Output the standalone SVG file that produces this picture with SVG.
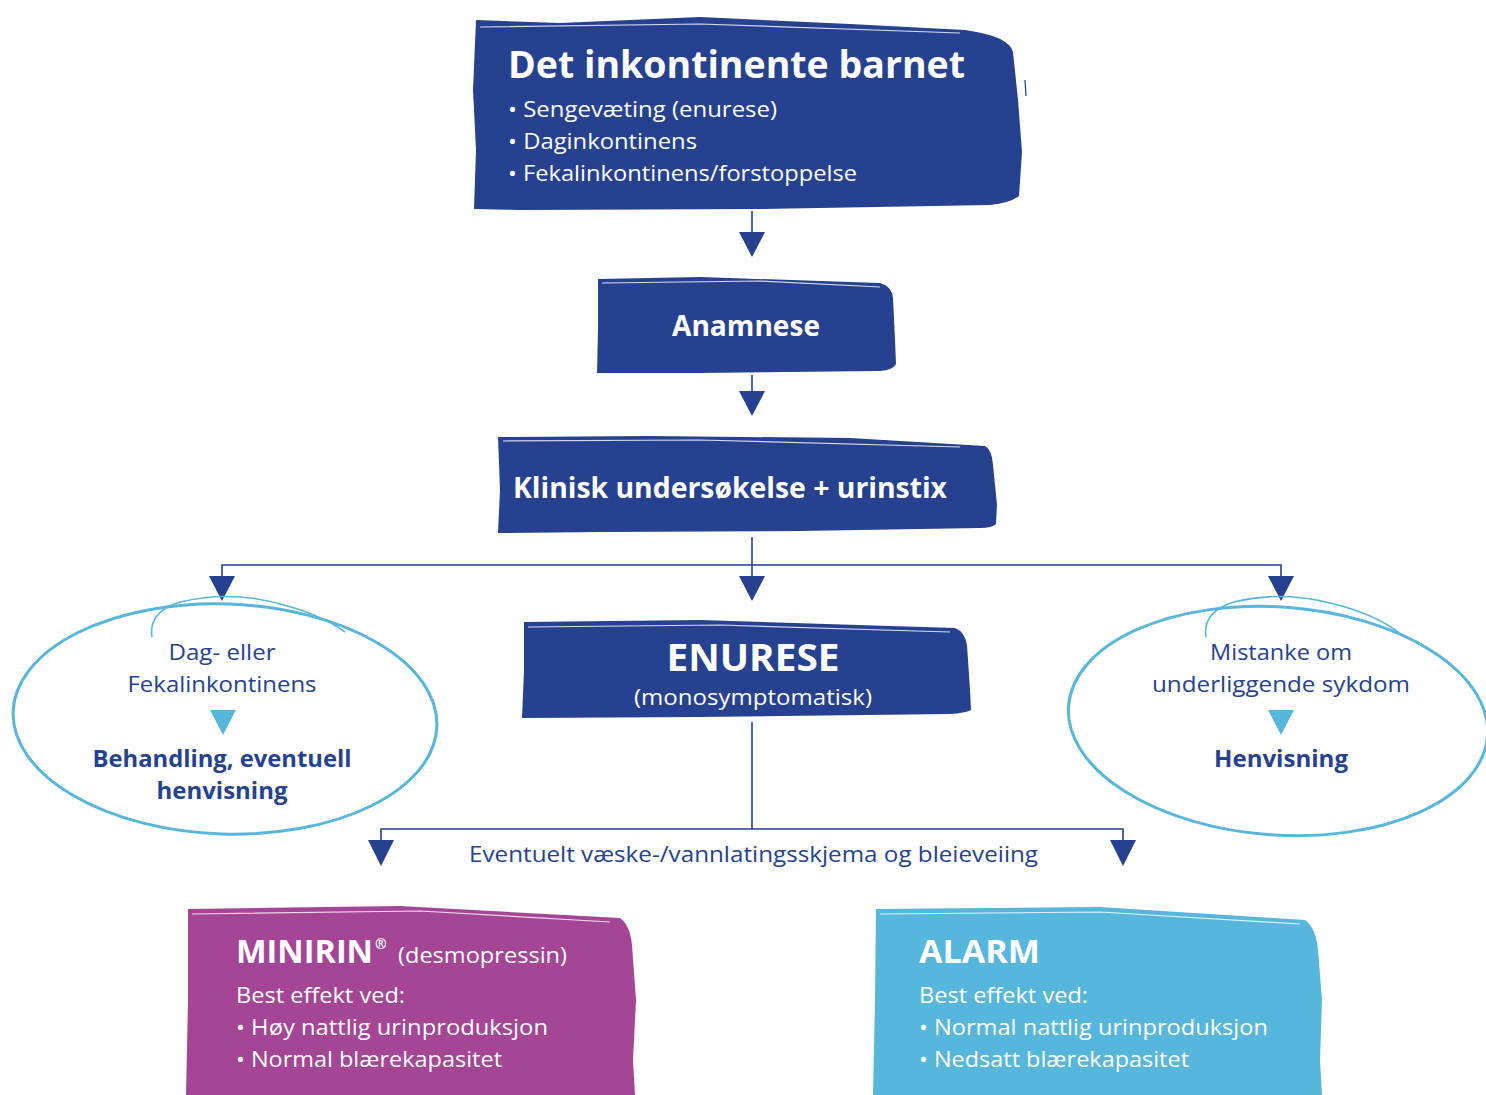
<svg xmlns="http://www.w3.org/2000/svg" width="1486" height="1095" viewBox="0 0 1486 1095">
<defs>
<style>
.bx{fill:#26418f}
.pu{fill:#a44596}
.lb{fill:#57b6dc}
.t{font-family:"Open Sans","Liberation Sans",sans-serif}
.w{fill:#ffffff}
.d{fill:#26418f}
.b{font-weight:bold}
.ln{stroke:#26418f;stroke-width:1.6;fill:none}
.ar{fill:#26418f}
.el{stroke:#57b6dc;stroke-width:3;fill:none}
.el2{stroke:#57b6dc;stroke-width:1.6;fill:none}
.ed{stroke:#ffffff;stroke-width:1.2;fill:none;opacity:0.8}
</style>
</defs>
<rect width="1486" height="1095" fill="#ffffff"/>

<g id="connectors">
<line class="ln" x1="752" y1="211" x2="752" y2="233"/>
<polygon class="ar" points="739,232 765,232 752,257"/>
<line class="ln" x1="752" y1="375" x2="752" y2="392"/>
<polygon class="ar" points="739,391 765,391 752,416"/>
<line class="ln" x1="752" y1="537" x2="752" y2="577"/>
<polyline class="ln" points="222,577 222,565 1281,565 1281,577"/>
<polygon class="ar" points="739,576 765,576 752,601"/>
<polygon class="ar" points="209,576 235,576 222,601"/>
<polygon class="ar" points="1268,576 1294,576 1281,601"/>
<line class="ln" x1="752" y1="722" x2="752" y2="829"/>
<polyline class="ln" points="381,841 381,829 1123,829 1123,841"/>
<polygon class="ar" points="368,840 394,840 381,866"/>
<polygon class="ar" points="1110,840 1136,840 1123,866"/>
<text class="t d" x="753.5" y="862" font-size="22" text-anchor="middle" textLength="569" lengthAdjust="spacingAndGlyphs">Eventuelt væske-/vannlatingsskjema og bleieveiing</text>
</g>

<g id="node-top">
<path class="bx" d="M476,20 L560,23 L700,17 L850,24 L965,30 Q1009,36 1013,52 L1018,100 L1022,152 L1019,196 Q1010,203 990,205 L760,209 L520,210 L474,209 L476,150 L473,90 Z"/>
<path class="ed" d="M480,27 L700,24 L960,33"/>
<line x1="1025" y1="80" x2="1026" y2="96" stroke="#26418f" stroke-width="1.2"/>
<text class="t w b" x="508" y="78" font-size="38" textLength="457" lengthAdjust="spacingAndGlyphs">Det inkontinente barnet</text>
<text class="t w" x="508" y="117" font-size="22" textLength="269" lengthAdjust="spacingAndGlyphs">• Sengevæting (enurese)</text>
<text class="t w" x="508" y="149" font-size="22" textLength="189" lengthAdjust="spacingAndGlyphs">• Daginkontinens</text>
<text class="t w" x="508" y="181" font-size="22" textLength="349" lengthAdjust="spacingAndGlyphs">• Fekalinkontinens/forstoppelse</text>
</g>

<g id="node-anamnese">
<path class="bx" d="M598,279 L700,277 L880,283 Q892,286 893,298 L895,340 L896,364 Q893,370 880,371 L700,373 L597,373 L598,330 Z"/>
<path class="ed" d="M602,283 L760,281 L880,287"/>
<text class="t w b" x="746" y="336" font-size="28" text-anchor="middle" textLength="148" lengthAdjust="spacingAndGlyphs">Anamnese</text>
</g>

<g id="node-klinisk">
<path class="bx" d="M498,437 L650,436 L850,438 L985,446 Q992,450 993,465 L997,505 L996,524 Q992,528 980,528 L800,531 L600,532 L498,533 L500,490 Z"/>
<path class="ed" d="M503,441 L700,440 L960,447"/>
<text class="t w b" x="513" y="498" font-size="28" textLength="434" lengthAdjust="spacingAndGlyphs">Klinisk undersøkelse + urinstix</text>
</g>

<g id="node-enurese">
<path class="bx" d="M524,622 L700,620 L955,628 Q965,632 967,645 L970,690 L971,710 Q965,713 950,714 L700,717 L522,718 L524,670 Z"/>
<path class="ed" d="M528,627 L720,625 L950,632"/>
<text class="t w b" x="753" y="671" font-size="37" text-anchor="middle" textLength="173" lengthAdjust="spacingAndGlyphs">ENURESE</text>
<text class="t w" x="753" y="705" font-size="21" text-anchor="middle" textLength="238" lengthAdjust="spacingAndGlyphs">(monosymptomatisk)</text>
</g>

<g id="node-dag">
<ellipse class="el" cx="225" cy="719" rx="212" ry="115" transform="rotate(2 225 719)"/>
<path class="el2" d="M152,637 Q148,612 180,602 Q230,590 280,604 Q320,614 345,632"/>
<text class="t d" x="222" y="660" font-size="22" text-anchor="middle" textLength="107" lengthAdjust="spacingAndGlyphs">Dag- eller</text>
<text class="t d" x="222" y="692" font-size="22" text-anchor="middle" textLength="189" lengthAdjust="spacingAndGlyphs">Fekalinkontinens</text>
<polygon class="lb" points="210,710 236,710 223,735"/>
<text class="t d b" x="222" y="767" font-size="23" text-anchor="middle" textLength="259" lengthAdjust="spacingAndGlyphs">Behandling, eventuell</text>
<text class="t d b" x="222" y="799" font-size="23" text-anchor="middle" textLength="131" lengthAdjust="spacingAndGlyphs">henvisning</text>
</g>

<g id="node-mistanke">
<ellipse class="el" cx="1278" cy="721" rx="210" ry="114" transform="rotate(4 1278 721)"/>
<path class="el2" d="M1206,637 Q1202,612 1234,602 Q1284,590 1334,604 Q1374,614 1398,632"/>
<text class="t d" x="1281" y="660" font-size="22" text-anchor="middle" textLength="142" lengthAdjust="spacingAndGlyphs">Mistanke om</text>
<text class="t d" x="1281" y="692" font-size="22" text-anchor="middle" textLength="258" lengthAdjust="spacingAndGlyphs">underliggende sykdom</text>
<polygon class="lb" points="1268,710 1294,710 1281,735"/>
<text class="t d b" x="1281" y="767" font-size="23" text-anchor="middle" textLength="134" lengthAdjust="spacingAndGlyphs">Henvisning</text>
</g>

<g id="node-minirin">
<path class="pu" d="M188,909 L400,906 L620,918 Q630,925 632,945 L636,1000 L633,1060 L635,1095 L186,1095 L188,1000 Z"/>
<path class="ed" d="M192,914 L420,911 L610,922"/>
<text class="t w b" x="236" y="963" font-size="32" textLength="137" lengthAdjust="spacingAndGlyphs">MINIRIN</text>
<text class="t w b" x="375" y="949" font-size="14">®</text>
<text class="t w" x="398" y="963" font-size="22" textLength="169" lengthAdjust="spacingAndGlyphs">(desmopressin)</text>
<text class="t w" x="236" y="1003" font-size="22" textLength="169" lengthAdjust="spacingAndGlyphs">Best effekt ved:</text>
<text class="t w" x="236" y="1035" font-size="22" textLength="312" lengthAdjust="spacingAndGlyphs">• Høy nattlig urinproduksjon</text>
<text class="t w" x="236" y="1067" font-size="22" textLength="266" lengthAdjust="spacingAndGlyphs">• Normal blærekapasitet</text>
</g>

<g id="node-alarm">
<path class="lb" d="M876,909 L1100,907 L1305,920 Q1316,928 1318,950 L1322,1000 L1320,1060 L1322,1095 L873,1095 L875,1000 Z"/>
<path class="ed" d="M880,914 L1100,912 L1300,924"/>
<text class="t w b" x="919" y="963" font-size="32" textLength="121" lengthAdjust="spacingAndGlyphs">ALARM</text>
<text class="t w" x="919" y="1003" font-size="22" textLength="169" lengthAdjust="spacingAndGlyphs">Best effekt ved:</text>
<text class="t w" x="919" y="1035" font-size="22" textLength="349" lengthAdjust="spacingAndGlyphs">• Normal nattlig urinproduksjon</text>
<text class="t w" x="919" y="1067" font-size="22" textLength="270" lengthAdjust="spacingAndGlyphs">• Nedsatt blærekapasitet</text>
</g>
</svg>
